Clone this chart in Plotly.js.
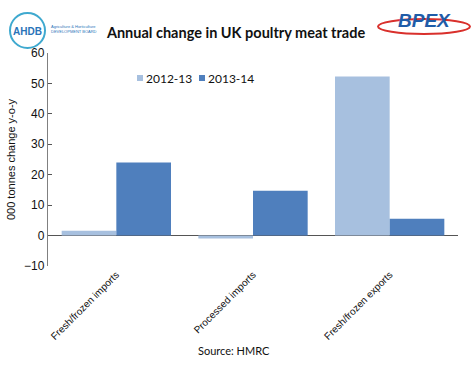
<!DOCTYPE html>
<html>
<head>
<meta charset="utf-8">
<script src="https://cdn.plot.ly/plotly-3.0.1.min.js"></script>
<style>html,body{margin:0;padding:0;background:#fff;}#chart{width:474px;height:366px;}</style>
</head>
<body>
<div id="chart"></div>
<script>
const categories = ["Fresh/frozen imports", "Processed imports", "Fresh/frozen exports"];
const series2012 = [1.6, -1.0, 52.3];
const series2013 = [24.0, 14.7, 5.5];
const seriesNames = ["2012-13", "2013-14"];
const seriesColors = ["#a7c0df", "#4f7fbd"];
const yTicks = [-10, 0, 10, 20, 30, 40, 50, 60];

const W = 474, H = 366, ML = 48, MR = 16, MT = 53, MB = 100;
const PW = W - ML - MR, PH = H - MT - MB;
const px = x => (x - ML) / PW;
const py = y => (H - MB - y) / PH;

const traces = seriesNames.map((n, i) => ({
  type: "bar", name: n, x: categories, y: i === 0 ? series2012 : series2013,
  marker: {color: seriesColors[i]}, showlegend: false
}));

const fontCal = "Lato, 'Open Sans', sans-serif";
const fontAr = "'Liberation Sans', Arial, sans-serif";

const legendX = [137, 199];
const shapes = [
  {type: "circle", xref: "paper", yref: "paper", x0: px(10), x1: px(45), y0: py(48), y1: py(13),
   line: {color: "#3fa9cf", width: 2}},
  {type: "circle", xref: "paper", yref: "paper", x0: px(378), x1: px(470), y0: py(34), y1: py(19),
   line: {color: "#d9302c", width: 2}}
];
const annotations = [
  {text: "<b>AHDB</b>", xref: "paper", yref: "paper", x: px(27.5), y: py(31), xanchor: "center", yanchor: "middle",
   showarrow: false, font: {family: fontAr, size: 10, color: "#2a74b9"}},
  {text: "Agriculture & Horticulture<br>DEVELOPMENT BOARD", xref: "paper", yref: "paper",
   x: px(49), y: py(29), xanchor: "left", yanchor: "middle", showarrow: false, align: "left",
   font: {family: fontAr, size: 4, color: "#2a74b9"}},
  {text: "<b><i>BPEX</i></b>", xref: "paper", yref: "paper", x: px(424), y: py(20), xanchor: "center", yanchor: "middle",
   showarrow: false, font: {family: fontAr, size: 19, color: "#1f5ca8"}},
  {text: "Source: HMRC", xref: "paper", yref: "paper", x: px(234), y: py(350), xanchor: "center", yanchor: "middle",
   showarrow: false, font: {family: fontCal, size: 11, color: "#111"}}
];
seriesNames.forEach((n, i) => {
  shapes.push({type: "rect", xref: "paper", yref: "paper", x0: px(legendX[i]), x1: px(legendX[i] + 6),
               y0: py(81), y1: py(75), line: {width: 0}, fillcolor: seriesColors[i]});
  annotations.push({text: n, xref: "paper", yref: "paper", x: px(legendX[i] + 7), y: py(78),
                    xanchor: "left", yanchor: "middle", showarrow: false,
                    font: {family: fontCal, size: 12, color: "#111"}});
});

const layout = {
  width: W, height: H,
  margin: {l: ML, r: MR, t: MT, b: MB, pad: 0},
  paper_bgcolor: "#fff", plot_bgcolor: "#fff",
  barmode: "group", bargap: 0.2, bargroupgap: 0,
  showlegend: false,
  title: {text: "<b>Annual change in UK poultry meat trade</b>", x: px(236), xanchor: "center",
          xref: "paper", y: 1 - 33 / H, yanchor: "middle",
          font: {family: fontCal, size: 14.5, color: "#111"}},
  xaxis: {type: "category", tickangle: -45, showgrid: false, showline: false, zeroline: false,
          ticks: "", tickfont: {family: fontAr, size: 10, color: "#111"}},
  yaxis: {range: [-10, 60], tickvals: yTicks, showgrid: false, showline: true, linecolor: "#808080",
          linewidth: 1.2, ticks: "inside", ticklen: 4, tickcolor: "#555",
          zeroline: true, zerolinecolor: "#555", zerolinewidth: 1.5,
          tickfont: {family: fontAr, size: 12, color: "#111"},
          title: {text: "000 tonnes change y-o-y", standoff: 6,
                  font: {family: fontAr, size: 11, color: "#111"}}},
  shapes: shapes,
  annotations: annotations
};

Plotly.newPlot("chart", traces, layout, {displayModeBar: false, staticPlot: true});
</script>
</body>
</html>
